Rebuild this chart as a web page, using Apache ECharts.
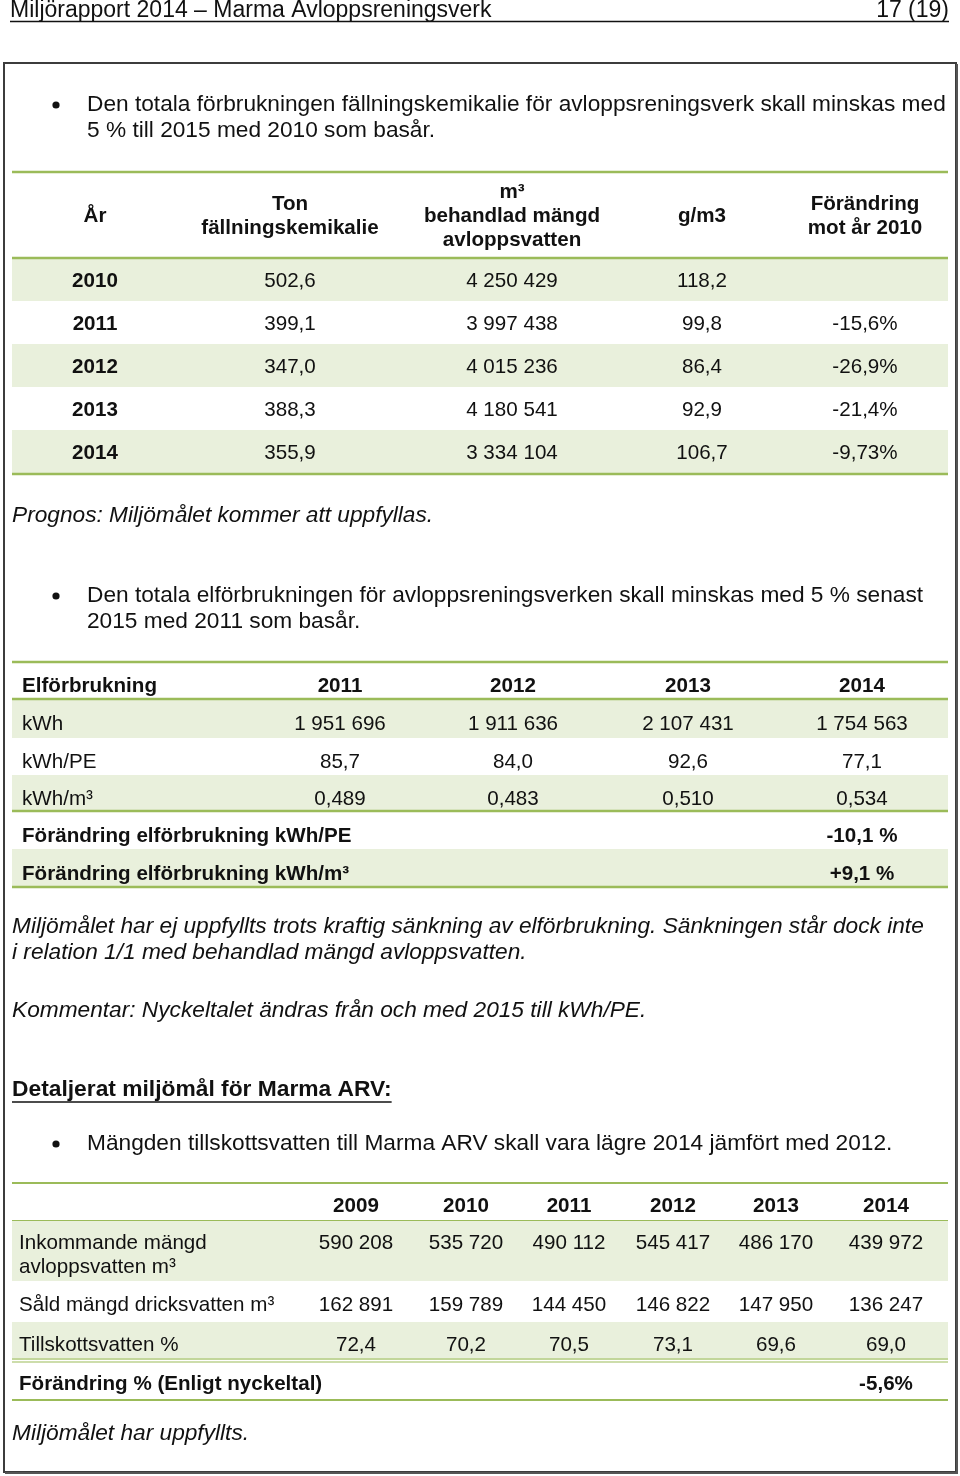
<!DOCTYPE html>
<html>
<head>
<meta charset="utf-8">
<script src="https://cdn.jsdelivr.net/npm/echarts@6/dist/echarts.min.js"></script>
<style>
  html, body { margin: 0; padding: 0; background: #fff; }
  #page { width: 960px; height: 1476px; }
</style>
</head>
<body>
<div id="page"></div>
<script>
// --- tabell 1: fällningskemikalie ---
const kemHeaders = [['År'], ['Ton', 'fällningskemikalie'], ['m³', 'behandlad mängd', 'avloppsvatten'], ['g/m3'], ['Förändring', 'mot år 2010']];
const kemYears = [2010, 2011, 2012, 2013, 2014];
const kemTon = [502.6, 399.1, 347.0, 388.3, 355.9];
const kemVolume = [4250429, 3997438, 4015236, 4180541, 3334104];
const kemGramPerM3 = [118.2, 99.8, 86.4, 92.9, 106.7];
const kemChange = [null, -15.6, -26.9, -21.4, -9.73];

// --- tabell 2: elförbrukning ---
const elYears = [2011, 2012, 2013, 2014];
const elKwh = [1951696, 1911636, 2107431, 1754563];
const elKwhPerPE = [85.7, 84.0, 92.6, 77.1];
const elKwhPerM3 = [0.489, 0.483, 0.510, 0.534];
const elChangePE = -10.1;
const elChangeM3 = 9.1;

// --- tabell 3: tillskottsvatten ---
const tsYears = [2009, 2010, 2011, 2012, 2013, 2014];
const tsIncoming = [590208, 535720, 490112, 545417, 486170, 439972];
const tsSold = [162891, 159789, 144450, 146822, 147950, 136247];
const tsShare = [72.4, 70.2, 70.5, 73.1, 69.6, 69.0];
const tsChange = -5.6;

const FONT = '"Liberation Sans", Arial, sans-serif';
const GREEN = '#9bbb59';
const SHADE = '#e9f0dc';
const INK = '#111';
const BODY = 22.7;   // brödtext
const CELL = 20.6;   // tabelltext

function sv(v, d) { return v.toFixed(d).replace('.', ','); }
function thousands(v) { return String(v).replace(/\B(?=(\d{3})+(?!\d))/g, ' '); }
function pct(v) { return v == null ? '' : (v > 0 ? '+' : '') + String(v).replace('.', ',') + '%'; }

const measureCtx = document.createElement('canvas').getContext('2d');
function textWidth(str, font) { measureCtx.font = font; return measureCtx.measureText(str).width; }

const els = [];
function txt(str, x, y, o) {
  o = o || {};
  const size = o.size || CELL;
  els.push({
    type: 'text', x: x, y: y, silent: true,
    style: {
      text: str,
      font: (o.italic ? 'italic ' : '') + (o.bold ? 'bold ' : '') + size + 'px ' + FONT,
      fill: INK,
      textAlign: o.align || 'left',
      textVerticalAlign: 'middle'
    }
  });
}
function hline(x1, x2, y, color, w) {
  els.push({ type: 'line', silent: true, shape: { x1: x1, y1: y, x2: x2, y2: y }, style: { stroke: color, lineWidth: w } });
}
function band(x1, x2, y1, y2) {
  els.push({ type: 'rect', silent: true, shape: { x: x1, y: y1, width: x2 - x1, height: y2 - y1 }, style: { fill: SHADE } });
}
function bullet(y, lines) {
  els.push({ type: 'circle', silent: true, shape: { cx: 56, cy: y, r: 3.6 }, style: { fill: INK } });
  lines.forEach((l, i) => txt(l, 87, y + i * 26, { size: BODY }));
}

// sidhuvud
txt('Miljörapport 2014 – Marma Avloppsreningsverk', 10, 11, { size: 23 });
txt('17 (19)', 949, 11, { size: 23, align: 'right' });
hline(10, 949, 21.5, INK, 1.5);

// ram
els.push({ type: 'rect', silent: true, shape: { x: 4, y: 63, width: 952, height: 1409 }, style: { fill: 'none', stroke: '#3c3c3c', lineWidth: 2 } });
hline(5, 957, 1473, '#555', 2);
els.push({ type: 'line', silent: true, shape: { x1: 957, y1: 64, x2: 957, y2: 1474 }, style: { stroke: '#555', lineWidth: 2 } });

bullet(105, ['Den totala förbrukningen fällningskemikalie för avloppsreningsverk skall minskas med', '5 % till 2015 med 2010 som basår.']);

// tabell 1
(function () {
  const L = 12, R = 948, top = 172, headH = 86, rowH = 43;
  const cols = [95, 290, 512, 702, 865];
  const bodyTop = top + headH;
  kemYears.forEach((yr, i) => {
    const y0 = bodyTop + i * rowH;
    if (i % 2 === 0) band(L, R, y0, y0 + rowH);
    const cy = y0 + rowH / 2 + 1.5;
    const cells = [String(yr), sv(kemTon[i], 1), thousands(kemVolume[i]), sv(kemGramPerM3[i], 1), pct(kemChange[i])];
    cells.forEach((c, j) => txt(c, cols[j], cy, { bold: j === 0, align: 'center' }));
  });
  const headMid = top + headH / 2 + 1;
  kemHeaders.forEach((lines, j) => {
    lines.forEach((l, k) => txt(l, cols[j], headMid + (k - (lines.length - 1) / 2) * 24, { bold: true, align: 'center' }));
  });
  hline(L, R, top, GREEN, 2.5);
  hline(L, R, bodyTop, GREEN, 2.5);
  hline(L, R, bodyTop + kemYears.length * rowH + 1, GREEN, 2.5);
})();

txt('Prognos: Miljömålet kommer att uppfyllas.', 12, 516, { size: BODY, italic: true });

bullet(596, ['Den totala elförbrukningen för avloppsreningsverken skall minskas med 5 % senast', '2015 med 2011 som basår.']);

// tabell 2
(function () {
  const L = 12, R = 948, labelX = 22;
  const cols = [340, 513, 688, 862];
  const rows = [
    { label: 'Elförbrukning', cells: elYears.map(String), h: 37, bold: true, line: true },
    { label: 'kWh', cells: elKwh.map(thousands), h: 39, shade: true },
    { label: 'kWh/PE', cells: elKwhPerPE.map(v => sv(v, 1)), h: 37 },
    { label: 'kWh/m³', cells: elKwhPerM3.map(v => sv(v, 3)), h: 36, shade: true, line: true },
    { label: 'Förändring elförbrukning kWh/PE', cells: [null, null, null, sv(elChangePE, 1) + ' %'], h: 38, bold: true },
    { label: 'Förändring elförbrukning kWh/m³', cells: [null, null, null, '+' + sv(elChangeM3, 1) + ' %'], h: 38, bold: true, shade: true, line: true }
  ];
  let y = 662;
  const lines = [y];
  rows.forEach(r => {
    if (r.shade) band(L, R, y, y + r.h);
    const cy = y + r.h / 2 + 6;
    txt(r.label, labelX, cy, { bold: r.bold });
    r.cells.forEach((c, j) => { if (c) txt(c, cols[j], cy, { bold: r.bold, align: 'center' }); });
    y += r.h;
    if (r.line) lines.push(y);
  });
  lines.forEach(ly => hline(L, R, ly, GREEN, 2.5));
})();

txt('Miljömålet har ej uppfyllts trots kraftig sänkning av elförbrukning. Sänkningen står dock inte', 12, 927, { size: BODY, italic: true });
txt('i relation 1/1 med behandlad mängd avloppsvatten.', 12, 953, { size: BODY, italic: true });
txt('Kommentar: Nyckeltalet ändras från och med 2015 till kWh/PE.', 12, 1011, { size: BODY, italic: true });

// rubrik
(function () {
  const title = 'Detaljerat miljömål för Marma ARV:';
  const font = 'bold 22.8px ' + FONT;
  txt(title, 12, 1090, { size: 22.8, bold: true });
  hline(12, 12 + textWidth(title, font), 1102, INK, 1.6);
})();

bullet(1144, ['Mängden tillskottsvatten till Marma ARV skall vara lägre 2014 jämfört med 2012.']);

// tabell 3
(function () {
  const L = 12, R = 948, labelX = 19;
  const cols = [356, 466, 569, 673, 776, 886];
  const rows = [
    { label: [''], cells: tsYears.map(String), h: 38, boldCells: true, line: true },
    { label: ['Inkommande mängd', 'avloppsvatten m³'], cells: tsIncoming.map(thousands), h: 60, shade: true },
    { label: ['Såld mängd dricksvatten m³'], cells: tsSold.map(thousands), h: 41 },
    { label: ['Tillskottsvatten %'], cells: tsShare.map(v => sv(v, 1)), h: 38, shade: true, double: true },
    { label: ['Förändring % (Enligt nyckeltal)'], cells: [null, null, null, null, null, sv(tsChange, 1) + '%'], h: 40, bold: true, boldCells: true, line: true }
  ];
  let y = 1183;
  hline(L, R, y, GREEN, 2);
  rows.forEach(r => {
    if (r.shade) band(L, R, y, y + r.h);
    const cy = y + r.h / 2 + 4;
    r.label.forEach((l, k) => txt(l, labelX, cy + (k - (r.label.length - 1) / 2) * 24, { bold: r.bold }));
    const valueY = r.label.length > 1 ? cy - 12 : cy;
    r.cells.forEach((c, j) => { if (c) txt(c, cols[j], valueY, { bold: r.boldCells, align: 'center' }); });
    y += r.h;
    if (r.line) hline(L, R, y, GREEN, 2);
    if (r.double) { hline(L, R, y - 1, GREEN, 1.2); hline(L, R, y + 2, GREEN, 1.2); }
  });
})();

txt('Miljömålet har uppfyllts.', 12, 1434, { size: BODY, italic: true });

const chart = echarts.init(document.getElementById('page'), null, { renderer: 'canvas' });
chart.setOption({
  backgroundColor: '#fff',
  animation: false,
  graphic: { elements: els }
});
</script>
</body>
</html>
